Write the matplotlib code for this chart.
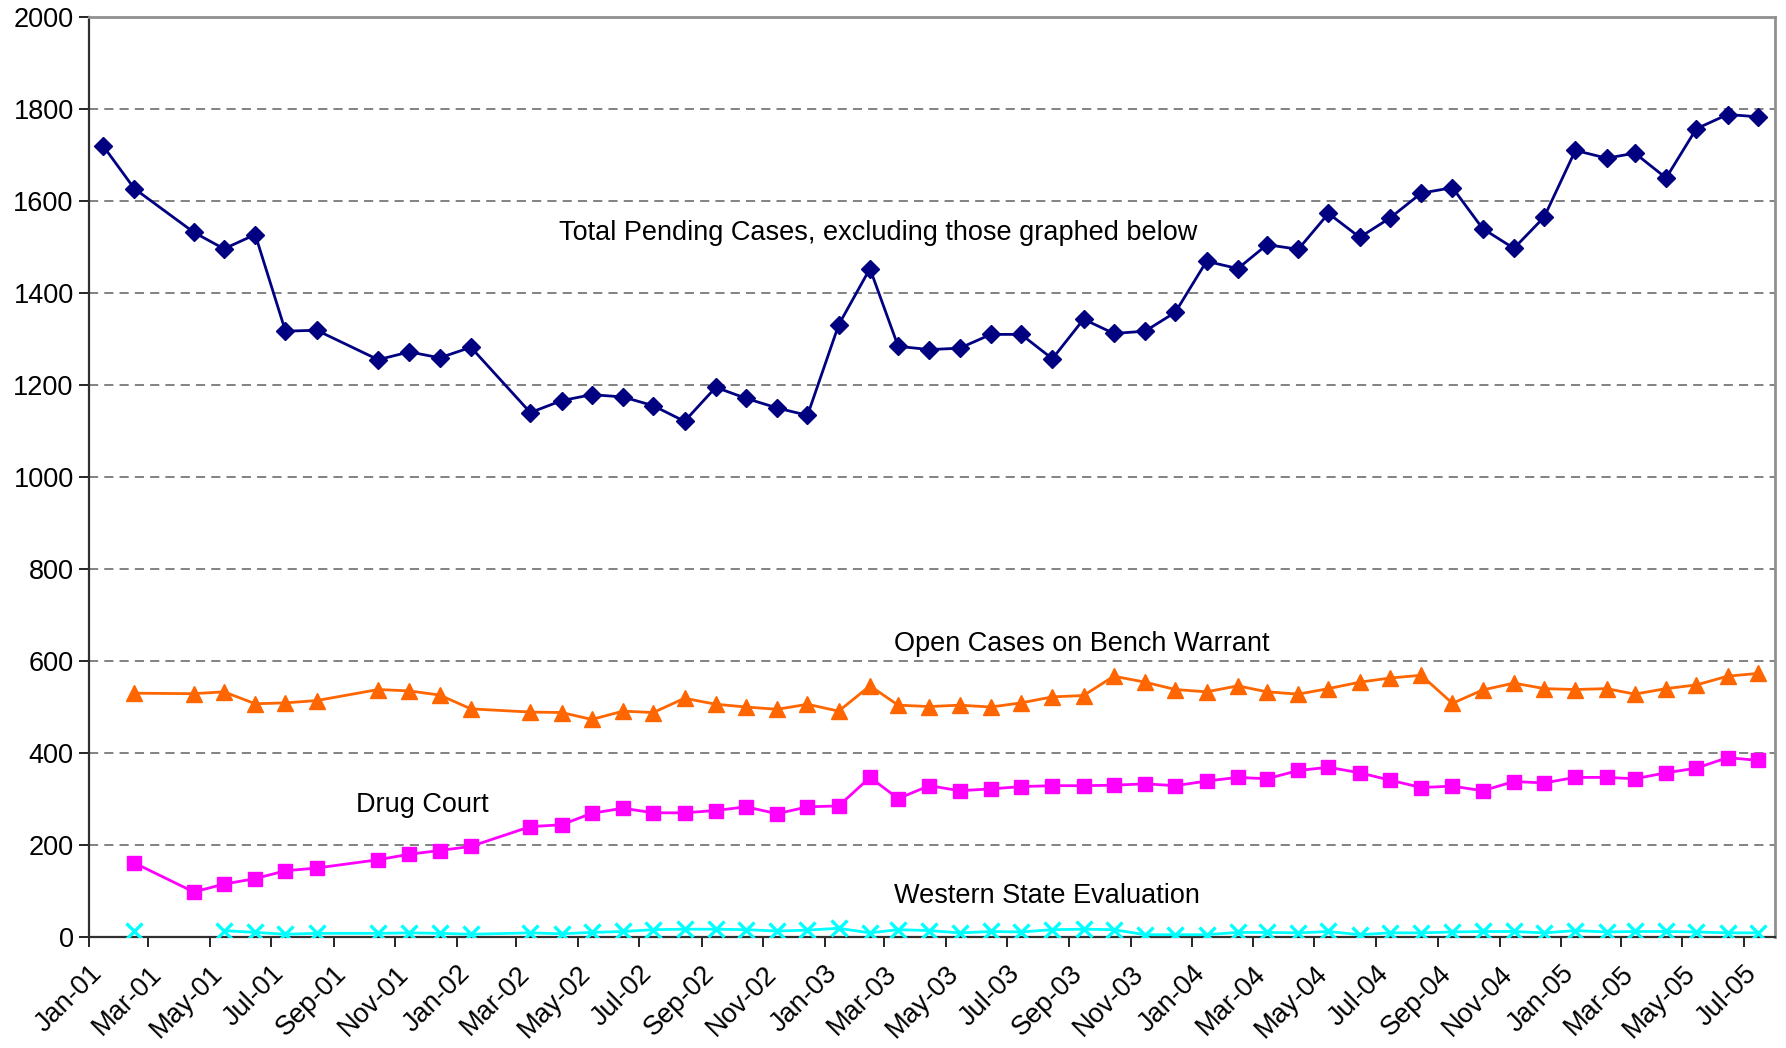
import matplotlib
matplotlib.use("Agg")

import numpy as np
import pandas as pd
import matplotlib.pyplot as plt
import matplotlib.dates as mdates

plt.rcParams['font.family'] = ['Liberation Sans', 'DejaVu Sans']

# monthly report dates (Mar-01, Sep-01 and Feb-02 have no report)
months = ["2001-01", "2001-02", "2001-04", "2001-05", "2001-06", "2001-07", "2001-08",
          "2001-10", "2001-11", "2001-12", "2002-01",
          "2002-03", "2002-04", "2002-05", "2002-06", "2002-07", "2002-08", "2002-09",
          "2002-10", "2002-11", "2002-12",
          "2003-01", "2003-02", "2003-03", "2003-04", "2003-05", "2003-06", "2003-07",
          "2003-08", "2003-09", "2003-10", "2003-11", "2003-12",
          "2004-01", "2004-02", "2004-03", "2004-04", "2004-05", "2004-06", "2004-07",
          "2004-08", "2004-09", "2004-10", "2004-11", "2004-12",
          "2005-01", "2005-02", "2005-03", "2005-04", "2005-05", "2005-06", "2005-07"]

total_pending = [1720, 1627, 1532, 1496, 1527, 1317, 1319, 1255, 1272, 1259, 1282,
                 1140, 1166, 1179, 1174, 1155, 1121, 1195, 1171, 1150, 1134,
                 1331, 1453, 1284, 1277, 1280, 1310, 1310, 1257, 1343, 1312, 1317, 1358,
                 1469, 1453, 1505, 1495, 1573, 1521, 1563, 1617, 1629, 1540, 1497, 1565,
                 1710, 1693, 1704, 1650, 1757, 1788, 1783]

bench_warrant = [np.nan, 530, 529, 533, 507, 509, 514, 538, 535, 526, 496,
                 489, 488, 473, 491, 488, 519, 506, 500, 495, 506,
                 491, 546, 504, 501, 504, 500, 509, 522, 525, 567, 554, 538,
                 533, 546, 533, 528, 540, 554, 563, 569, 508, 537, 552, 540,
                 538, 540, 528, 540, 548, 567, 573]

drug_court = [np.nan, 161, 98, 115, 127, 144, 150, 168, 180, 188, 197,
              240, 244, 269, 280, 270, 270, 275, 283, 268, 283,
              285, 347, 301, 329, 318, 322, 327, 329, 329, 330, 333, 329,
              339, 347, 344, 362, 369, 357, 341, 325, 328, 318, 338, 335,
              347, 347, 344, 357, 367, 390, 384]

western_state = [np.nan, 12, np.nan, 14, 10, 6, 8, 8, 9, 8, 6,
                 9, 7, 10, 12, 16, 17, 17, 16, 13, 15,
                 19, 9, 16, 14, 9, 12, 11, 16, 17, 16, 5, 5,
                 5, 10, 10, 9, 12, 5, 9, 9, 11, 12, 12, 9,
                 14, 11, 12, 12, 11, 9, 9]

dates = pd.to_datetime([m + "-15" for m in months])

fig = plt.figure(figsize=(17.86, 10.48), dpi=100)
ax = fig.add_axes([0.0498, 0.1059, 0.9440, 0.8779])

ax.plot(dates, total_pending, color="#000080", lw=2, marker="D", ms=9, zorder=4)
ax.plot(dates, bench_warrant, color="#FF6600", lw=2, marker="^", ms=12, zorder=4)
ax.plot(dates, drug_court, color="#FF00FF", lw=2, marker="s", ms=10.5, zorder=4)
ax.plot(dates, western_state, color="#00FFFF", lw=2, marker="x", ms=12, mew=2.4, zorder=4)

ax.set_xlim(pd.Timestamp("2001-01-01"), pd.Timestamp("2005-08-01"))
ax.set_ylim(0, 2000)
ax.set_yticks(np.arange(0, 2001, 200))

ax.xaxis.set_major_locator(mdates.MonthLocator(bymonth=[1, 3, 5, 7, 9, 11]))
ax.xaxis.set_major_formatter(mdates.DateFormatter("%b-%y"))
for lab in ax.get_xticklabels():
    lab.set_rotation(45)
    lab.set_ha("right")
    lab.set_va("top")
    lab.set_rotation_mode("anchor")

ax.tick_params(axis="both", labelsize=19.5, length=7, width=1.2, direction="out", colors="black")
ax.tick_params(axis="x", pad=10)
ax.tick_params(axis="y", pad=4)

ax.yaxis.grid(True, linestyle=(0, (6, 4)), color="#606060", lw=1.1)
ax.set_axisbelow(True)

for s in ["left", "bottom"]:
    ax.spines[s].set_color("#303030")
    ax.spines[s].set_linewidth(1.6)
for s in ["top", "right"]:
    ax.spines[s].set_color("#909090")
    ax.spines[s].set_linewidth(2)

txt = dict(fontsize=19.5, va="center", ha="left", color="black")
ax.text(pd.Timestamp("2002-04-12"), 1531, "Total Pending Cases, excluding those graphed below", **txt)
ax.text(pd.Timestamp("2003-03-11"), 636, "Open Cases on Bench Warrant", **txt)
ax.text(pd.Timestamp("2001-09-23"), 286, "Drug Court", **txt)
ax.text(pd.Timestamp("2003-03-11"), 90, "Western State Evaluation", **txt)

fig.savefig("out.png", dpi=100)
